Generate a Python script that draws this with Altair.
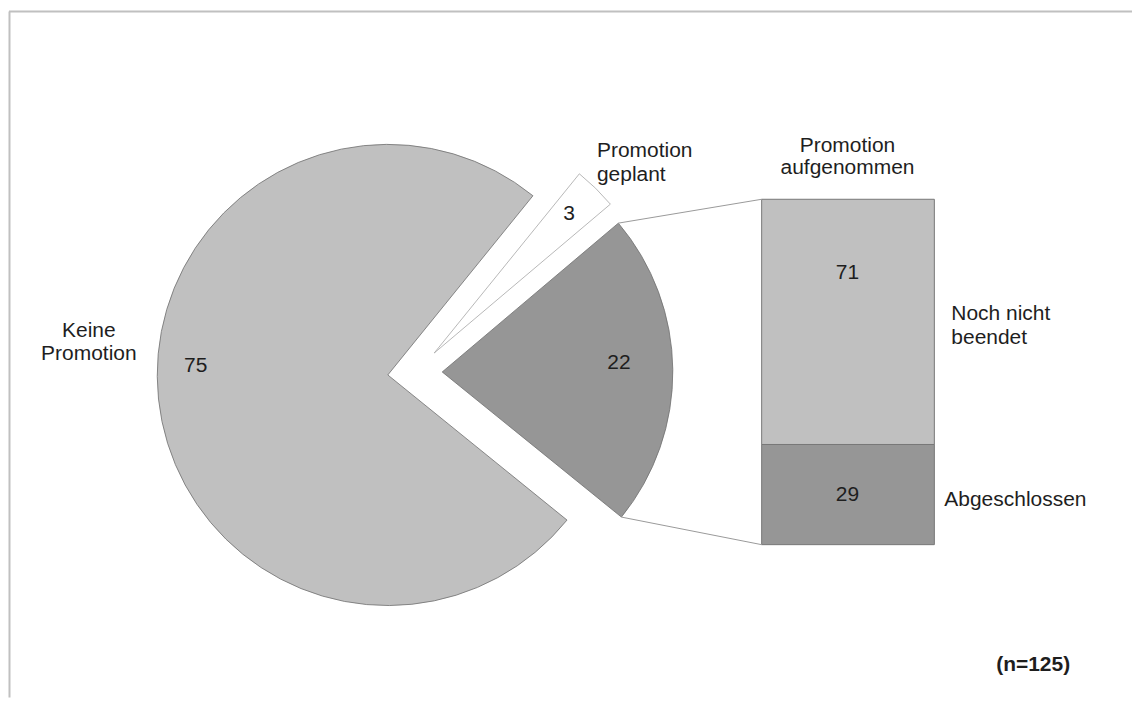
import math
import altair as alt
import pandas as pd

# ---------------- data ----------------
pie_labels = ["Promotion geplant", "Promotion aufgenommen", "Keine Promotion"]
pie_values = [3, 22, 75]
bar_labels = ["Abgeschlossen", "Noch nicht beendet"]
bar_values = [29, 71]
sample_note = "(n=125)"

# display lines of labels
pie_label_lines = [["Promotion", "geplant"], ["Promotion", "aufgenommen"], ["Keine", "Promotion"]]
bar_label_lines = [["Abgeschlossen"], ["Noch nicht", "beendet"]]

# ---------------- style / layout ----------------
LIGHT = "#c0c0c0"
DARK = "#969696"
WHITE = "#ffffff"
pie_colors = [WHITE, DARK, LIGHT]
pie_strokes = ["#a6a6a6", "#6e6e6e", "#6e6e6e"]
bar_colors = [DARK, LIGHT]
FONT = "Liberation Sans"
FS = 21
TXT = "#1e1e1e"

W, H = 1125, 690
R = 231
START = math.radians(39)
# centres of the (exploded) slices, in plot pixels
centers = [(426, 345), (434, 364), (379.5, 367)]
BAR_X0, BAR_X1 = 754, 927
BAR_BOTTOM, BAR_TOP = 537, 191

total = sum(pie_values)

# ---------------- tables ----------------
rows, cum = [], 0
for lab, v in zip(pie_labels, pie_values):
    rows.append(dict(label=lab, value=v, t0=cum, t1=cum + v))
    cum += v
pie_df = pd.DataFrame(rows)

brow, bcum = [], 0
for lab, v in zip(bar_labels, bar_values):
    brow.append(dict(label=lab, value=v, y0=bcum, y1=bcum + v))
    bcum += v
bar_df = pd.DataFrame(brow)
bar_total = sum(bar_values)

theta_scale = alt.Scale(domain=[0, total], range=[START, START + 2 * math.pi])
y_scale = alt.Scale(domain=[0, bar_total], range=[BAR_BOTTOM, BAR_TOP])

layers = []

# border lines
layers.append(alt.Chart(pie_df.head(1)).mark_rule(color="#c0c0c0", strokeWidth=2).encode(
    x=alt.value(0), x2=alt.value(W), y=alt.value(3)))
layers.append(alt.Chart(pie_df.head(1)).mark_rule(color="#c0c0c0", strokeWidth=2).encode(
    x=alt.value(0.5), y=alt.value(3), y2=alt.value(H)))

# pie slices
for i, lab in enumerate(pie_labels):
    cx, cy = centers[i]
    layers.append(
        alt.Chart(pie_df)
        .transform_filter(alt.datum.label == lab)
        .mark_arc(radius=R, stroke=pie_strokes[i], strokeWidth=0.8)
        .encode(
            theta=alt.Theta("t0:Q", scale=theta_scale),
            theta2="t1:Q",
            x=alt.value(cx),
            y=alt.value(cy),
            fill=alt.value(pie_colors[i]),
        )
    )

# bar of pie
layers.append(
    alt.Chart(bar_df)
    .mark_rect(stroke="#777777", strokeWidth=1)
    .encode(
        x=alt.value(BAR_X0),
        x2=alt.value(BAR_X1),
        y=alt.Y("y0:Q", scale=y_scale, axis=None),
        y2="y1:Q",
        fill=alt.Fill("label:N", scale=alt.Scale(domain=bar_labels, range=bar_colors), legend=None),
    )
)

# connector lines from the "aufgenommen" slice to the bar
cx, cy = centers[1]
a_top = START + 2 * math.pi * pie_df.loc[1, "t0"] / total
a_bot = START + 2 * math.pi * pie_df.loc[1, "t1"] / total
p_top = (cx + R * math.sin(a_top), cy - R * math.cos(a_top))
p_bot = (cx + R * math.sin(a_bot), cy - R * math.cos(a_bot))
for (px, py), by in [(p_top, BAR_TOP), (p_bot, BAR_BOTTOM)]:
    layers.append(alt.Chart(pie_df.head(1)).mark_rule(color="#9a9a9a", strokeWidth=1).encode(
        x=alt.value(px), y=alt.value(py), x2=alt.value(BAR_X0), y2=alt.value(by)))


def txt(lines, x, y, align="center", bold=False, lh=23.5):
    text = lines if len(lines) > 1 else lines[0]
    return alt.Chart(pie_df.head(1)).mark_text(
        font=FONT, fontSize=FS, color=TXT, align=align, baseline="alphabetic",
        lineHeight=lh, fontWeight="bold" if bold else "normal",
    ).encode(x=alt.value(x), y=alt.value(y), text=alt.value(text))


# category labels
layers.append(txt(pie_label_lines[2], 80, 329))
layers.append(txt(pie_label_lines[0], 589, 149, align="left", lh=24))
layers.append(txt(pie_label_lines[1], 840, 144, lh=22))
layers.append(txt(bar_label_lines[1], 944, 312, align="left", lh=24))
layers.append(txt(bar_label_lines[0], 937, 498, align="left"))

# value labels
layers.append(txt([str(pie_values[2])], 187, 364))
layers.append(txt([str(pie_values[0])], 561, 212))
layers.append(txt([str(pie_values[1])], 611, 361))
layers.append(txt([str(bar_values[1])], 840, 271))
layers.append(txt([str(bar_values[0])], 840, 493))

# sample size
layers.append(txt([sample_note], 1026, 664, bold=True))

chart = (
    alt.layer(*layers)
    .properties(width=W, height=H, padding=0, background="white")
    .configure_view(stroke=None)
)

chart.save("out.html", embed_options={"renderer": "svg", "actions": False})
